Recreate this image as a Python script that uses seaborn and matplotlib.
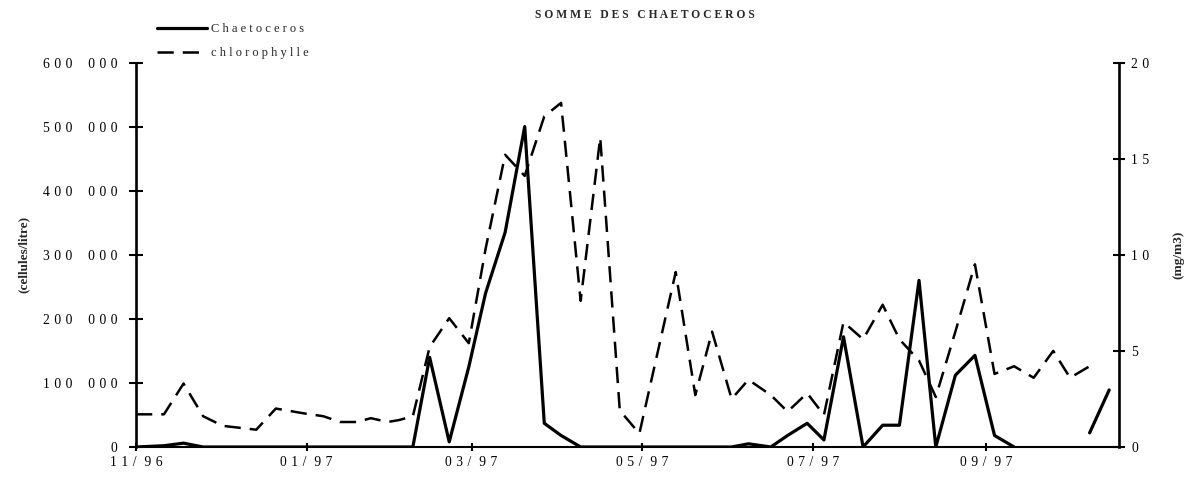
import numpy as np
import pandas as pd
import matplotlib
matplotlib.use("Agg")
import matplotlib.pyplot as plt
import seaborn as sns

# Sampling dates (roughly weekly)
dates = [
    "1996-11-01", "1996-11-11", "1996-11-18", "1996-11-25", "1996-12-02",
    "1996-12-08", "1996-12-14", "1996-12-21", "1996-12-31", "1997-01-07",
    "1997-01-13", "1997-01-19", "1997-01-24", "1997-01-30", "1997-02-03",
    "1997-02-08", "1997-02-14", "1997-02-21", "1997-02-28", "1997-03-06",
    "1997-03-13", "1997-03-20", "1997-03-27", "1997-04-02", "1997-04-09",
    "1997-04-16", "1997-04-23", "1997-04-30", "1997-05-13", "1997-05-20",
    "1997-05-26", "1997-06-02", "1997-06-08", "1997-06-16", "1997-06-22",
    "1997-06-29", "1997-07-05", "1997-07-12", "1997-07-19", "1997-07-26",
    "1997-08-01", "1997-08-08", "1997-08-14", "1997-08-21", "1997-08-28",
    "1997-09-04", "1997-09-11", "1997-09-18", "1997-09-25", "1997-10-01",
    "1997-10-08", "1997-10-15",
]

# Sum of Chaetoceros counts (cells / litre); NaN = no count
chaetoceros = [
    0, 2000, 6000, 0, 0,
    0, 0, 0, 0, 0,
    0, 0, 0, 0, 0,
    0, 140000, 8000, 125000, 240000,
    335000, 500000, 37000, 18000, 0,
    0, 0, 0, 0, 0,
    0, 0, 5000, 0, 18000,
    37000, 11000, 172000, 0, 34000,
    34000, 260000, 0, 112000, 143000,
    18000, 0, np.nan, np.nan, np.nan,
    22000, 89000,
]

# Chlorophyll (mg/m3)
chlorophylle = [
    1.7, 1.7, 3.3, 1.6, 1.1,
    1.0, 0.9, 2.0, 1.75, 1.6,
    1.3, 1.3, 1.5, 1.3, 1.4,
    1.6, 5.2, 6.7, 5.4, 10.3,
    15.2, 14.1, 17.2, 17.9, 7.6,
    16.1, 1.9, 0.7, 9.1, 2.7,
    6.0, 2.5, 3.5, 2.7, 1.84,
    2.8, 1.66, 6.5, 5.6, 7.4,
    5.6, 4.5, 2.6, 6.0, 9.5,
    3.8, 4.2, 3.6, 5.0, 3.6,
    4.2, np.nan,
]

left_ticks = [0, 100000, 200000, 300000, 400000, 500000, 600000]
left_tick_labels = ["0", "100 000", "200 000", "300 000", "400 000", "500 000", "600 000"]
right_ticks = [0, 5, 10, 15, 20]
right_tick_labels = ["0", "5", "10", "15", "20"]
month_ticks = ["1996-11-01", "1997-01-01", "1997-03-01", "1997-05-01", "1997-07-01", "1997-09-01"]
month_labels = ["11/96", "01/97", "03/97", "05/97", "07/97", "09/97"]

TITLE = "SOMME DES CHAETOCEROS"


def spaced(text, gap=" ", word=" "):
    """Letter-spaced rendering of a label."""
    return gap.join(word if c == " " else c for c in text)


def tracked(text):
    # wide tracking for the axis numbers: 1/3-em between characters,
    # en space for the thousands separator
    return spaced(text, gap="\u2004", word="\u2002")


def tracked_month(text):
    # month labels get a little extra room after the slash
    return tracked(text).replace("/", "/\u2005")


df = pd.DataFrame({
    "date": pd.to_datetime(dates),
    "chaetoceros": chaetoceros,
    "chlorophylle": chlorophylle,
})
# split each series into continuous runs so missing counts leave a gap
df["seg_chaeto"] = np.cumsum(df["chaetoceros"].isna())
df["seg_chloro"] = np.cumsum(df["chlorophylle"].isna())

sns.set_style("ticks")
plt.rcParams["font.family"] = ["Liberation Serif", "DejaVu Serif"]

W, H = 1189, 479
fig = plt.figure(figsize=(W / 100, H / 100), dpi=100)
ax_l, ax_r, ax_b, ax_t = 136, 1118.5, 447, 62.5
ax = fig.add_axes([ax_l / W, 1 - ax_b / H, (ax_r - ax_l) / W, (ax_b - ax_t) / H])
ax2 = ax.twinx()

sns.lineplot(data=df, x="date", y="chaetoceros", units="seg_chaeto",
             estimator=None, color="black", lw=2.3, ax=ax)
sns.lineplot(data=df, x="date", y="chlorophylle", units="seg_chloro",
             estimator=None, color="black", lw=1.8,
             linestyle=(0, (6.5, 3.6)), ax=ax2)

ax.set_xlim(pd.Timestamp("1996-11-01"), pd.Timestamp("1997-10-18 08:00"))
ax.set_ylim(0, 600000)
ax2.set_ylim(0, 20)

ax.set_yticks(left_ticks)
ax.set_yticklabels([tracked(t) for t in left_tick_labels])
ax2.set_yticks(right_ticks)
ax2.set_yticklabels([tracked(t) for t in right_tick_labels])
ax.set_xticks(pd.to_datetime(month_ticks))
ax.set_xticklabels([tracked_month(t) for t in month_labels])
ax.xaxis.set_minor_locator(matplotlib.ticker.NullLocator())

ax.set_xlabel("")
ax.set_ylabel("(cellules/litre)", fontsize=9.5, fontweight="bold")
ax.yaxis.set_label_coords(-0.108, 0.5)
ax2.set_ylabel("(mg/m3)", fontsize=9.5, fontweight="bold")
ax2.yaxis.set_label_coords(1.055, 0.5)

for a in (ax, ax2):
    a.spines["top"].set_visible(False)
ax.spines["right"].set_visible(False)
ax2.spines["left"].set_visible(False)
ax2.spines["bottom"].set_visible(False)
ax.spines["left"].set_linewidth(1.9)
ax2.spines["right"].set_linewidth(1.9)
ax.spines["bottom"].set_linewidth(1.5)
for s in ("left", "bottom"):
    ax.spines[s].set_color("black")
ax2.spines["right"].set_color("black")

ax.tick_params(axis="y", direction="inout", length=9.5, width=1.5,
               labelsize=9.8, pad=8.5, colors="black")
ax2.tick_params(axis="y", direction="inout", length=8, width=1.5,
                labelsize=9.8, pad=5, colors="black")
ax.tick_params(axis="x", direction="inout", length=6, width=1.5,
               labelsize=9.8, pad=3.5, colors="black")

handles = [ax.lines[0], ax2.lines[0]]
fig.legend(handles, [spaced("Chaetoceros"), spaced("chlorophylle")],
           loc="upper left", bbox_to_anchor=(157 / W, 1 - 23.5 / H),
           frameon=False, fontsize=9, handlelength=4.0, handletextpad=0.3,
           labelspacing=0.95, borderpad=0, borderaxespad=0)

fig.text(645 / W, 1 - 15 / H, spaced(TITLE), ha="center", va="center",
         fontsize=8.4, fontweight="bold")

fig.savefig("out.png", dpi=100, facecolor="white")
